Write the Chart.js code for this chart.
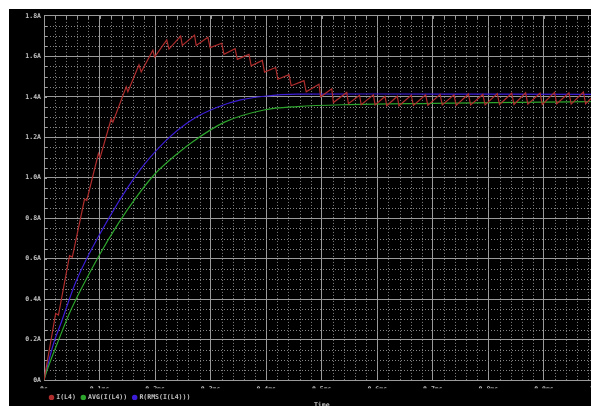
<!DOCTYPE html>
<html>
<head>
<meta charset="utf-8">
<script src="https://cdn.jsdelivr.net/npm/chart.js@4.4.0/dist/chart.umd.min.js"></script>
<style>
  html, body { margin: 0; padding: 0; background: #fff; overflow: hidden; width: 591px; height: 406px; }
  #wrap { position: absolute; left: 9px; top: 9px; width: 620px; height: 400px; background: #000; }
</style>
</head>
<body>
<div id="wrap"><canvas id="chart" width="620" height="400"></canvas></div>
<script>
// time in ms, current in A
const xTickLabels = ['0s', '0.1ms', '0.2ms', '0.3ms', '0.4ms', '0.5ms', '0.6ms', '0.7ms', '0.8ms', '0.9ms', '1.0ms'];
const yTickLabels = ['0A', '0.2A', '0.4A', '0.6A', '0.8A', '1.0A', '1.2A', '1.4A', '1.6A', '1.8A'];
const seriesNames = ['I(L4)', 'AVG(I(L4))', 'R(RMS(I(L4)))'];
const xAxisTitle = 'Time';

const inductorTime = [
  0, 0.021, 0.026, 0.046, 0.051, 0.073, 0.077, 0.098, 0.101, 0.121, 0.124,
  0.148, 0.151, 0.171, 0.175, 0.196, 0.199, 0.221, 0.225, 0.246, 0.249,
  0.271, 0.274, 0.295, 0.299, 0.320, 0.324, 0.344, 0.348, 0.369, 0.373,
  0.393, 0.397, 0.417, 0.421, 0.441, 0.445, 0.468, 0.472, 0.495, 0.498,
  0.518, 0.521, 0.545, 0.548, 0.568, 0.571, 0.593, 0.596, 0.614, 0.617,
  0.636, 0.639, 0.661, 0.665, 0.687, 0.691, 0.713, 0.717, 0.738, 0.742,
  0.764, 0.768, 0.790, 0.794, 0.816, 0.820, 0.842, 0.846, 0.867, 0.871,
  0.893, 0.897, 0.919, 0.923, 0.945, 0.949, 0.971, 0.975, 0.996, 1.000
];
const inductorCurrent = [
  0, 0.330, 0.322, 0.615, 0.608, 0.895, 0.888, 1.120, 1.100, 1.292, 1.275,
  1.450, 1.425, 1.558, 1.523, 1.631, 1.597, 1.681, 1.636, 1.700, 1.654,
  1.705, 1.654, 1.695, 1.643, 1.665, 1.610, 1.638, 1.585, 1.610, 1.553,
  1.580, 1.522, 1.545, 1.487, 1.510, 1.455, 1.480, 1.425, 1.462, 1.400,
  1.440, 1.372, 1.422, 1.366, 1.408, 1.361, 1.410, 1.360, 1.402, 1.356,
  1.403, 1.356, 1.408, 1.358, 1.410, 1.358, 1.412, 1.360, 1.410, 1.358,
  1.414, 1.360, 1.412, 1.360, 1.416, 1.362, 1.418, 1.362, 1.420, 1.364,
  1.418, 1.362, 1.422, 1.366, 1.420, 1.364, 1.424, 1.366, 1.422, 1.400
];

const avgTime = [0, 0.005, 0.023, 0.049, 0.100, 0.135, 0.165, 0.200, 0.236, 0.266, 0.325, 0.396, 0.456, 0.550, 0.700, 0.850, 1.000];
const avgCurrent = [0, 0.045, 0.175, 0.350, 0.620, 0.780, 0.900, 1.020, 1.110, 1.175, 1.275, 1.335, 1.352, 1.362, 1.368, 1.373, 1.377];

const rmsTime = [0, 0.017, 0.029, 0.058, 0.100, 0.165, 0.218, 0.265, 0.313, 0.354, 0.397, 0.456, 0.600, 0.800, 1.000];
const rmsCurrent = [0, 0.180, 0.270, 0.490, 0.720, 1.010, 1.180, 1.285, 1.350, 1.385, 1.403, 1.413, 1.414, 1.413, 1.412];

const xMinorStep = 0.02;
const yMinorStep = 0.05;

const toPoints = (xs, ys) => xs.map((t, i) => ({ x: t, y: ys[i] }));

const minorGrid = {
  id: 'minorGrid',
  beforeDatasetsDraw(chart) {
    const { ctx, chartArea: a, scales: { x, y } } = chart;
    ctx.save();
    ctx.strokeStyle = '#858585';
    ctx.lineWidth = 1;
    ctx.setLineDash([1, 2]);
    const nx = Math.round(x.max / xMinorStep);
    for (let i = 1; i < nx; i++) {
      if (i % 5 === 0) continue;
      const px = Math.round(x.getPixelForValue(i * xMinorStep)) + 0.5;
      ctx.beginPath(); ctx.moveTo(px, a.top); ctx.lineTo(px, a.bottom); ctx.stroke();
    }
    const ny = Math.round(y.max / yMinorStep);
    for (let j = 1; j < ny; j++) {
      if (j % 4 === 0) continue;
      const py = Math.round(y.getPixelForValue(j * yMinorStep)) + 0.5;
      ctx.beginPath(); ctx.moveTo(a.left, py); ctx.lineTo(a.right, py); ctx.stroke();
    }
    // ruler marks along the top and left edges
    ctx.setLineDash([]);
    ctx.strokeStyle = '#a0a0a0';
    for (let i = 1; i < nx; i++) {
      const px = Math.round(x.getPixelForValue(i * xMinorStep)) + 0.5;
      ctx.beginPath(); ctx.moveTo(px, a.top); ctx.lineTo(px, a.top + 3); ctx.stroke();
    }
    for (let j = 1; j < ny; j++) {
      const py = Math.round(y.getPixelForValue(j * yMinorStep)) + 0.5;
      ctx.beginPath(); ctx.moveTo(a.left, py); ctx.lineTo(a.left + 3, py); ctx.stroke();
    }
    ctx.restore();
  }
};

Chart.defaults.font.family = "'DejaVu Sans Mono', monospace";
Chart.defaults.color = '#c4c4c4';

new Chart(document.getElementById('chart'), {
  type: 'line',
  data: {
    datasets: [
      {
        label: seriesNames[0],
        data: toPoints(inductorTime, inductorCurrent),
        borderColor: 'rgb(175,45,45)',
        backgroundColor: 'rgb(175,45,45)',
        borderWidth: 1.2,
        pointRadius: 0,
        tension: 0
      },
      {
        label: seriesNames[1],
        data: toPoints(avgTime, avgCurrent),
        borderColor: 'rgb(45,165,45)',
        backgroundColor: 'rgb(45,165,45)',
        borderWidth: 1.2,
        pointRadius: 0,
        cubicInterpolationMode: 'monotone'
      },
      {
        label: seriesNames[2],
        data: toPoints(rmsTime, rmsCurrent),
        borderColor: 'rgb(60,30,215)',
        backgroundColor: 'rgb(60,30,215)',
        borderWidth: 1.2,
        pointRadius: 0,
        cubicInterpolationMode: 'monotone'
      }
    ]
  },
  options: {
    responsive: false,
    animation: false,
    layout: { padding: { left: 0, top: 5, right: 29.5, bottom: 0 } },
    scales: {
      x: {
        type: 'linear',
        min: 0,
        max: 1.0,
        afterFit: s => { s.height = 8; },
        grid: { color: '#9a9a9a', lineWidth: 1, drawTicks: false },
        border: { color: '#9a9a9a' },
        ticks: {
          stepSize: 0.1,
          padding: 5,
          maxRotation: 0,
          autoSkip: false,
          font: { size: 6.5, weight: 'bold' },
          callback: (v, i) => xTickLabels[i]
        }
      },
      y: {
        min: 0,
        max: 1.8,
        afterFit: s => { s.width = 35; },
        grid: { color: '#9a9a9a', lineWidth: 1, drawTicks: false },
        border: { color: '#9a9a9a' },
        ticks: {
          stepSize: 0.2,
          padding: 3,
          font: { size: 6.5, weight: 'bold' },
          callback: (v, i) => yTickLabels[i]
        }
      }
    },
    plugins: {
      legend: {
        position: 'bottom',
        align: 'start',
        fullSize: false,
        maxHeight: 12,
        labels: {
          usePointStyle: true,
          pointStyle: 'circle',
          boxWidth: 3,
          boxHeight: 3,
          padding: 6,
          font: { size: 6.5, weight: 'bold' }
        }
      },
      title: {
        display: true,
        position: 'bottom',
        fullSize: false,
        text: xAxisTitle,
        padding: { top: 1, bottom: 0 },
        font: { size: 6.5, weight: 'bold' }
      },
      tooltip: { enabled: false }
    }
  },
  plugins: [minorGrid]
});
</script>
</body>
</html>
